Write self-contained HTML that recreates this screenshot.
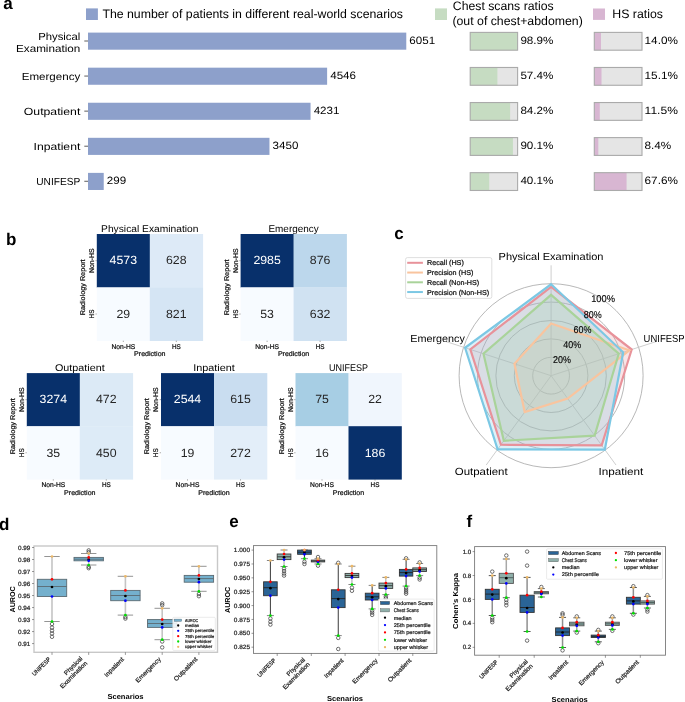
<!DOCTYPE html>
<html><head><meta charset="utf-8"><style>
html,body{margin:0;padding:0;background:#fff;}
svg{display:block;font-family:"Liberation Sans", sans-serif;will-change:transform;text-rendering:geometricPrecision;}
</style></head><body>
<svg width="685" height="702" viewBox="0 0 685 702">
<rect x="0" y="0" width="685" height="702" fill="#ffffff"/>
<text x="3.20" y="9.20" font-size="17" font-weight="bold" fill="#000">a</text>
<text x="5.90" y="244.70" font-size="17" font-weight="bold" fill="#000">b</text>
<text x="394.30" y="239.40" font-size="17" font-weight="bold" fill="#000">c</text>
<text x="-0.90" y="529.50" font-size="17" font-weight="bold" fill="#000">d</text>
<text x="229.20" y="526.90" font-size="17" font-weight="bold" fill="#000">e</text>
<text x="466.60" y="526.90" font-size="17" font-weight="bold" fill="#000">f</text>
<rect x="86.00" y="8.40" width="11.90" height="11.60" fill="#8da0cb"/>
<text x="102.40" y="17.80" font-size="12.3" textLength="300.60" lengthAdjust="spacingAndGlyphs">The number of patients in different real-world scenarios</text>
<rect x="435.00" y="8.40" width="12.00" height="11.60" fill="#c6dcc2"/>
<text x="452.80" y="10.20" font-size="12.3" textLength="100.80" lengthAdjust="spacingAndGlyphs">Chest scans ratios</text>
<text x="452.40" y="24.50" font-size="12.3" textLength="130.40" lengthAdjust="spacingAndGlyphs">(out of chest+abdomen)</text>
<rect x="593.00" y="8.50" width="12.00" height="11.40" fill="#d8b6d2"/>
<text x="612.30" y="17.60" font-size="12.3">HS ratios</text>
<rect x="88.00" y="32.60" width="318.28" height="17.10" fill="#8da0cb"/>
<line x1="84.30" y1="41.00" x2="88.00" y2="41.00" stroke="#333" stroke-width="0.8"/>
<text x="80.30" y="40.00" font-size="10.3" text-anchor="end" textLength="42.10" lengthAdjust="spacingAndGlyphs">Physical</text>
<text x="80.30" y="51.70" font-size="10.3" text-anchor="end" textLength="64.30" lengthAdjust="spacingAndGlyphs">Examination</text>
<text x="409.38" y="44.00" font-size="10.6" textLength="25.80" lengthAdjust="spacingAndGlyphs">6051</text>
<rect x="470.20" y="32.40" width="47.40" height="17.80" fill="#e5e5e5"/>
<rect x="470.20" y="32.40" width="46.88" height="17.80" fill="#c6dcc2"/>
<rect x="470.20" y="32.40" width="47.40" height="17.80" fill="none" stroke="#aaaaaa" stroke-width="1.1"/>
<text x="520.40" y="44.00" font-size="10.6" textLength="33.00" lengthAdjust="spacingAndGlyphs">98.9%</text>
<rect x="594.30" y="32.40" width="47.70" height="17.80" fill="#e5e5e5"/>
<rect x="594.30" y="32.40" width="6.68" height="17.80" fill="#d8b6d2"/>
<rect x="594.30" y="32.40" width="47.70" height="17.80" fill="none" stroke="#aaaaaa" stroke-width="1.1"/>
<text x="644.60" y="44.00" font-size="10.6" textLength="33.30" lengthAdjust="spacingAndGlyphs">14.0%</text>
<rect x="88.00" y="67.67" width="239.12" height="17.10" fill="#8da0cb"/>
<line x1="84.30" y1="76.07" x2="88.00" y2="76.07" stroke="#333" stroke-width="0.8"/>
<text x="80.30" y="79.82" font-size="10.3" text-anchor="end" textLength="58.60" lengthAdjust="spacingAndGlyphs">Emergency</text>
<text x="330.22" y="79.07" font-size="10.6" textLength="25.80" lengthAdjust="spacingAndGlyphs">4546</text>
<rect x="470.20" y="67.47" width="47.40" height="17.80" fill="#e5e5e5"/>
<rect x="470.20" y="67.47" width="27.21" height="17.80" fill="#c6dcc2"/>
<rect x="470.20" y="67.47" width="47.40" height="17.80" fill="none" stroke="#aaaaaa" stroke-width="1.1"/>
<text x="520.40" y="79.07" font-size="10.6" textLength="33.00" lengthAdjust="spacingAndGlyphs">57.4%</text>
<rect x="594.30" y="67.47" width="47.70" height="17.80" fill="#e5e5e5"/>
<rect x="594.30" y="67.47" width="7.20" height="17.80" fill="#d8b6d2"/>
<rect x="594.30" y="67.47" width="47.70" height="17.80" fill="none" stroke="#aaaaaa" stroke-width="1.1"/>
<text x="644.60" y="79.07" font-size="10.6" textLength="33.30" lengthAdjust="spacingAndGlyphs">15.1%</text>
<rect x="88.00" y="102.74" width="222.55" height="17.10" fill="#8da0cb"/>
<line x1="84.30" y1="111.14" x2="88.00" y2="111.14" stroke="#333" stroke-width="0.8"/>
<text x="80.30" y="114.89" font-size="10.3" text-anchor="end" textLength="56.50" lengthAdjust="spacingAndGlyphs">Outpatient</text>
<text x="313.65" y="114.14" font-size="10.6" textLength="25.80" lengthAdjust="spacingAndGlyphs">4231</text>
<rect x="470.20" y="102.54" width="47.40" height="17.80" fill="#e5e5e5"/>
<rect x="470.20" y="102.54" width="39.91" height="17.80" fill="#c6dcc2"/>
<rect x="470.20" y="102.54" width="47.40" height="17.80" fill="none" stroke="#aaaaaa" stroke-width="1.1"/>
<text x="520.40" y="114.14" font-size="10.6" textLength="33.00" lengthAdjust="spacingAndGlyphs">84.2%</text>
<rect x="594.30" y="102.54" width="47.70" height="17.80" fill="#e5e5e5"/>
<rect x="594.30" y="102.54" width="5.49" height="17.80" fill="#d8b6d2"/>
<rect x="594.30" y="102.54" width="47.70" height="17.80" fill="none" stroke="#aaaaaa" stroke-width="1.1"/>
<text x="644.60" y="114.14" font-size="10.6" textLength="33.30" lengthAdjust="spacingAndGlyphs">11.5%</text>
<rect x="88.00" y="137.81" width="181.47" height="17.10" fill="#8da0cb"/>
<line x1="84.30" y1="146.21" x2="88.00" y2="146.21" stroke="#333" stroke-width="0.8"/>
<text x="80.30" y="149.96" font-size="10.3" text-anchor="end" textLength="46.70" lengthAdjust="spacingAndGlyphs">Inpatient</text>
<text x="272.57" y="149.21" font-size="10.6" textLength="25.80" lengthAdjust="spacingAndGlyphs">3450</text>
<rect x="470.20" y="137.61" width="47.40" height="17.80" fill="#e5e5e5"/>
<rect x="470.20" y="137.61" width="42.71" height="17.80" fill="#c6dcc2"/>
<rect x="470.20" y="137.61" width="47.40" height="17.80" fill="none" stroke="#aaaaaa" stroke-width="1.1"/>
<text x="520.40" y="149.21" font-size="10.6" textLength="33.00" lengthAdjust="spacingAndGlyphs">90.1%</text>
<rect x="594.30" y="137.61" width="47.70" height="17.80" fill="#e5e5e5"/>
<rect x="594.30" y="137.61" width="4.01" height="17.80" fill="#d8b6d2"/>
<rect x="594.30" y="137.61" width="47.70" height="17.80" fill="none" stroke="#aaaaaa" stroke-width="1.1"/>
<text x="644.60" y="149.21" font-size="10.6" textLength="26.70" lengthAdjust="spacingAndGlyphs">8.4%</text>
<rect x="88.00" y="172.88" width="15.73" height="17.10" fill="#8da0cb"/>
<line x1="84.30" y1="181.28" x2="88.00" y2="181.28" stroke="#333" stroke-width="0.8"/>
<text x="80.30" y="185.03" font-size="10.3" text-anchor="end" textLength="44.10" lengthAdjust="spacingAndGlyphs">UNIFESP</text>
<text x="106.83" y="184.28" font-size="10.6" textLength="19.35" lengthAdjust="spacingAndGlyphs">299</text>
<rect x="470.20" y="172.68" width="47.40" height="17.80" fill="#e5e5e5"/>
<rect x="470.20" y="172.68" width="19.01" height="17.80" fill="#c6dcc2"/>
<rect x="470.20" y="172.68" width="47.40" height="17.80" fill="none" stroke="#aaaaaa" stroke-width="1.1"/>
<text x="520.40" y="184.28" font-size="10.6" textLength="33.00" lengthAdjust="spacingAndGlyphs">40.1%</text>
<rect x="594.30" y="172.68" width="47.70" height="17.80" fill="#e5e5e5"/>
<rect x="594.30" y="172.68" width="32.25" height="17.80" fill="#d8b6d2"/>
<rect x="594.30" y="172.68" width="47.70" height="17.80" fill="none" stroke="#aaaaaa" stroke-width="1.1"/>
<text x="644.60" y="184.28" font-size="10.6" textLength="33.30" lengthAdjust="spacingAndGlyphs">67.6%</text>
<rect x="96.80" y="234.00" width="53.30" height="53.65" fill="#08306b"/>
<rect x="149.80" y="234.00" width="53.30" height="53.65" fill="#ddeaf7"/>
<rect x="96.80" y="287.35" width="53.30" height="53.65" fill="#f7fbff"/>
<rect x="149.80" y="287.35" width="53.30" height="53.65" fill="#d5e5f4"/>
<text x="123.30" y="264.48" font-size="11.9" text-anchor="middle" textLength="27.40" lengthAdjust="spacingAndGlyphs" fill="#ffffff">4573</text>
<text x="176.30" y="264.48" font-size="11.9" text-anchor="middle" textLength="20.55" lengthAdjust="spacingAndGlyphs" fill="#262626">628</text>
<text x="123.30" y="317.83" font-size="11.9" text-anchor="middle" textLength="13.70" lengthAdjust="spacingAndGlyphs" fill="#262626">29</text>
<text x="176.30" y="317.83" font-size="11.9" text-anchor="middle" textLength="20.55" lengthAdjust="spacingAndGlyphs" fill="#262626">821</text>
<text x="149.80" y="232.10" font-size="9.8" text-anchor="middle" textLength="97.44" lengthAdjust="spacingAndGlyphs">Physical Examination</text>
<text x="85.30" y="287.35" font-size="6.9" text-anchor="middle" textLength="56.00" lengthAdjust="spacingAndGlyphs" transform="rotate(-90 85.30 287.35)" stroke="#1a1a1a" stroke-width="0.22">Radiology Report</text>
<text x="94.20" y="260.68" font-size="6.9" text-anchor="middle" textLength="24.60" lengthAdjust="spacingAndGlyphs" transform="rotate(-90 94.20 260.68)" stroke="#1a1a1a" stroke-width="0.22">Non-HS</text>
<text x="94.20" y="314.02" font-size="6.9" text-anchor="middle" textLength="8.80" lengthAdjust="spacingAndGlyphs" transform="rotate(-90 94.20 314.02)" stroke="#1a1a1a" stroke-width="0.22">HS</text>
<line x1="95.50" y1="260.68" x2="96.80" y2="260.68" stroke="#555" stroke-width="0.5"/>
<line x1="95.50" y1="314.02" x2="96.80" y2="314.02" stroke="#555" stroke-width="0.5"/>
<line x1="123.30" y1="340.70" x2="123.30" y2="342.00" stroke="#555" stroke-width="0.5"/>
<line x1="176.30" y1="340.70" x2="176.30" y2="342.00" stroke="#555" stroke-width="0.5"/>
<text x="123.30" y="348.50" font-size="6.9" text-anchor="middle" textLength="23.80" lengthAdjust="spacingAndGlyphs" stroke="#1a1a1a" stroke-width="0.22">Non-HS</text>
<text x="176.30" y="348.50" font-size="6.9" text-anchor="middle" textLength="8.80" lengthAdjust="spacingAndGlyphs" stroke="#1a1a1a" stroke-width="0.22">HS</text>
<text x="149.80" y="356.20" font-size="6.9" text-anchor="middle" textLength="31.40" lengthAdjust="spacingAndGlyphs" stroke="#1a1a1a" stroke-width="0.22">Prediction</text>
<rect x="240.60" y="234.00" width="53.30" height="53.65" fill="#08306b"/>
<rect x="293.60" y="234.00" width="53.30" height="53.65" fill="#bcd7ec"/>
<rect x="240.60" y="287.35" width="53.30" height="53.65" fill="#f7fbff"/>
<rect x="293.60" y="287.35" width="53.30" height="53.65" fill="#d0e2f2"/>
<text x="267.10" y="264.48" font-size="11.9" text-anchor="middle" textLength="27.40" lengthAdjust="spacingAndGlyphs" fill="#ffffff">2985</text>
<text x="320.10" y="264.48" font-size="11.9" text-anchor="middle" textLength="20.55" lengthAdjust="spacingAndGlyphs" fill="#262626">876</text>
<text x="267.10" y="317.83" font-size="11.9" text-anchor="middle" textLength="13.70" lengthAdjust="spacingAndGlyphs" fill="#262626">53</text>
<text x="320.10" y="317.83" font-size="11.9" text-anchor="middle" textLength="20.55" lengthAdjust="spacingAndGlyphs" fill="#262626">632</text>
<text x="293.60" y="232.10" font-size="9.8" text-anchor="middle" textLength="50.24" lengthAdjust="spacingAndGlyphs">Emergency</text>
<text x="229.10" y="287.35" font-size="6.9" text-anchor="middle" textLength="56.00" lengthAdjust="spacingAndGlyphs" transform="rotate(-90 229.10 287.35)" stroke="#1a1a1a" stroke-width="0.22">Radiology Report</text>
<text x="238.00" y="260.68" font-size="6.9" text-anchor="middle" textLength="24.60" lengthAdjust="spacingAndGlyphs" transform="rotate(-90 238.00 260.68)" stroke="#1a1a1a" stroke-width="0.22">Non-HS</text>
<text x="238.00" y="314.02" font-size="6.9" text-anchor="middle" textLength="8.80" lengthAdjust="spacingAndGlyphs" transform="rotate(-90 238.00 314.02)" stroke="#1a1a1a" stroke-width="0.22">HS</text>
<line x1="239.30" y1="260.68" x2="240.60" y2="260.68" stroke="#555" stroke-width="0.5"/>
<line x1="239.30" y1="314.02" x2="240.60" y2="314.02" stroke="#555" stroke-width="0.5"/>
<line x1="267.10" y1="340.70" x2="267.10" y2="342.00" stroke="#555" stroke-width="0.5"/>
<line x1="320.10" y1="340.70" x2="320.10" y2="342.00" stroke="#555" stroke-width="0.5"/>
<text x="267.10" y="348.50" font-size="6.9" text-anchor="middle" textLength="23.80" lengthAdjust="spacingAndGlyphs" stroke="#1a1a1a" stroke-width="0.22">Non-HS</text>
<text x="320.10" y="348.50" font-size="6.9" text-anchor="middle" textLength="8.80" lengthAdjust="spacingAndGlyphs" stroke="#1a1a1a" stroke-width="0.22">HS</text>
<text x="293.60" y="356.20" font-size="6.9" text-anchor="middle" textLength="31.40" lengthAdjust="spacingAndGlyphs" stroke="#1a1a1a" stroke-width="0.22">Prediction</text>
<rect x="26.80" y="373.10" width="53.30" height="53.40" fill="#08306b"/>
<rect x="79.80" y="373.10" width="53.30" height="53.40" fill="#dceaf6"/>
<rect x="26.80" y="426.20" width="53.30" height="53.40" fill="#f7fbff"/>
<rect x="79.80" y="426.20" width="53.30" height="53.40" fill="#ddebf7"/>
<text x="53.30" y="403.45" font-size="11.9" text-anchor="middle" textLength="27.40" lengthAdjust="spacingAndGlyphs" fill="#ffffff">3274</text>
<text x="106.30" y="403.45" font-size="11.9" text-anchor="middle" textLength="20.55" lengthAdjust="spacingAndGlyphs" fill="#262626">472</text>
<text x="53.30" y="456.55" font-size="11.9" text-anchor="middle" textLength="13.70" lengthAdjust="spacingAndGlyphs" fill="#262626">35</text>
<text x="106.30" y="456.55" font-size="11.9" text-anchor="middle" textLength="20.55" lengthAdjust="spacingAndGlyphs" fill="#262626">450</text>
<text x="79.80" y="371.20" font-size="9.8" text-anchor="middle" textLength="49.73" lengthAdjust="spacingAndGlyphs">Outpatient</text>
<text x="15.30" y="426.20" font-size="6.9" text-anchor="middle" textLength="56.00" lengthAdjust="spacingAndGlyphs" transform="rotate(-90 15.30 426.20)" stroke="#1a1a1a" stroke-width="0.22">Radiology Report</text>
<text x="24.20" y="399.65" font-size="6.9" text-anchor="middle" textLength="24.60" lengthAdjust="spacingAndGlyphs" transform="rotate(-90 24.20 399.65)" stroke="#1a1a1a" stroke-width="0.22">Non-HS</text>
<text x="24.20" y="452.75" font-size="6.9" text-anchor="middle" textLength="8.80" lengthAdjust="spacingAndGlyphs" transform="rotate(-90 24.20 452.75)" stroke="#1a1a1a" stroke-width="0.22">HS</text>
<line x1="25.50" y1="399.65" x2="26.80" y2="399.65" stroke="#555" stroke-width="0.5"/>
<line x1="25.50" y1="452.75" x2="26.80" y2="452.75" stroke="#555" stroke-width="0.5"/>
<line x1="53.30" y1="479.30" x2="53.30" y2="480.60" stroke="#555" stroke-width="0.5"/>
<line x1="106.30" y1="479.30" x2="106.30" y2="480.60" stroke="#555" stroke-width="0.5"/>
<text x="53.30" y="487.10" font-size="6.9" text-anchor="middle" textLength="23.80" lengthAdjust="spacingAndGlyphs" stroke="#1a1a1a" stroke-width="0.22">Non-HS</text>
<text x="106.30" y="487.10" font-size="6.9" text-anchor="middle" textLength="8.80" lengthAdjust="spacingAndGlyphs" stroke="#1a1a1a" stroke-width="0.22">HS</text>
<text x="79.80" y="494.80" font-size="6.9" text-anchor="middle" textLength="31.40" lengthAdjust="spacingAndGlyphs" stroke="#1a1a1a" stroke-width="0.22">Prediction</text>
<rect x="161.00" y="373.10" width="53.30" height="53.40" fill="#08306b"/>
<rect x="214.00" y="373.10" width="53.30" height="53.40" fill="#c9ddf0"/>
<rect x="161.00" y="426.20" width="53.30" height="53.40" fill="#f7fbff"/>
<rect x="214.00" y="426.20" width="53.30" height="53.40" fill="#e3eef9"/>
<text x="187.50" y="403.45" font-size="11.9" text-anchor="middle" textLength="27.40" lengthAdjust="spacingAndGlyphs" fill="#ffffff">2544</text>
<text x="240.50" y="403.45" font-size="11.9" text-anchor="middle" textLength="20.55" lengthAdjust="spacingAndGlyphs" fill="#262626">615</text>
<text x="187.50" y="456.55" font-size="11.9" text-anchor="middle" textLength="13.70" lengthAdjust="spacingAndGlyphs" fill="#262626">19</text>
<text x="240.50" y="456.55" font-size="11.9" text-anchor="middle" textLength="20.55" lengthAdjust="spacingAndGlyphs" fill="#262626">272</text>
<text x="214.00" y="371.20" font-size="9.8" text-anchor="middle" textLength="41.61" lengthAdjust="spacingAndGlyphs">Inpatient</text>
<text x="149.50" y="426.20" font-size="6.9" text-anchor="middle" textLength="56.00" lengthAdjust="spacingAndGlyphs" transform="rotate(-90 149.50 426.20)" stroke="#1a1a1a" stroke-width="0.22">Radiology Report</text>
<text x="158.40" y="399.65" font-size="6.9" text-anchor="middle" textLength="24.60" lengthAdjust="spacingAndGlyphs" transform="rotate(-90 158.40 399.65)" stroke="#1a1a1a" stroke-width="0.22">Non-HS</text>
<text x="158.40" y="452.75" font-size="6.9" text-anchor="middle" textLength="8.80" lengthAdjust="spacingAndGlyphs" transform="rotate(-90 158.40 452.75)" stroke="#1a1a1a" stroke-width="0.22">HS</text>
<line x1="159.70" y1="399.65" x2="161.00" y2="399.65" stroke="#555" stroke-width="0.5"/>
<line x1="159.70" y1="452.75" x2="161.00" y2="452.75" stroke="#555" stroke-width="0.5"/>
<line x1="187.50" y1="479.30" x2="187.50" y2="480.60" stroke="#555" stroke-width="0.5"/>
<line x1="240.50" y1="479.30" x2="240.50" y2="480.60" stroke="#555" stroke-width="0.5"/>
<text x="187.50" y="487.10" font-size="6.9" text-anchor="middle" textLength="23.80" lengthAdjust="spacingAndGlyphs" stroke="#1a1a1a" stroke-width="0.22">Non-HS</text>
<text x="240.50" y="487.10" font-size="6.9" text-anchor="middle" textLength="8.80" lengthAdjust="spacingAndGlyphs" stroke="#1a1a1a" stroke-width="0.22">HS</text>
<text x="214.00" y="494.80" font-size="6.9" text-anchor="middle" textLength="31.40" lengthAdjust="spacingAndGlyphs" stroke="#1a1a1a" stroke-width="0.22">Prediction</text>
<rect x="295.50" y="373.10" width="53.30" height="53.40" fill="#a7cee4"/>
<rect x="348.50" y="373.10" width="53.30" height="53.40" fill="#f0f6fd"/>
<rect x="295.50" y="426.20" width="53.30" height="53.40" fill="#f7fbff"/>
<rect x="348.50" y="426.20" width="53.30" height="53.40" fill="#08306b"/>
<text x="322.00" y="403.45" font-size="11.9" text-anchor="middle" textLength="13.70" lengthAdjust="spacingAndGlyphs" fill="#262626">75</text>
<text x="375.00" y="403.45" font-size="11.9" text-anchor="middle" textLength="13.70" lengthAdjust="spacingAndGlyphs" fill="#262626">22</text>
<text x="322.00" y="456.55" font-size="11.9" text-anchor="middle" textLength="13.70" lengthAdjust="spacingAndGlyphs" fill="#262626">16</text>
<text x="375.00" y="456.55" font-size="11.9" text-anchor="middle" textLength="20.55" lengthAdjust="spacingAndGlyphs" fill="#ffffff">186</text>
<text x="348.50" y="371.20" font-size="9.8" text-anchor="middle" textLength="39.08" lengthAdjust="spacingAndGlyphs">UNIFESP</text>
<text x="284.00" y="426.20" font-size="6.9" text-anchor="middle" textLength="56.00" lengthAdjust="spacingAndGlyphs" transform="rotate(-90 284.00 426.20)" stroke="#1a1a1a" stroke-width="0.22">Radiology Report</text>
<text x="292.90" y="399.65" font-size="6.9" text-anchor="middle" textLength="24.60" lengthAdjust="spacingAndGlyphs" transform="rotate(-90 292.90 399.65)" stroke="#1a1a1a" stroke-width="0.22">Non-HS</text>
<text x="292.90" y="452.75" font-size="6.9" text-anchor="middle" textLength="8.80" lengthAdjust="spacingAndGlyphs" transform="rotate(-90 292.90 452.75)" stroke="#1a1a1a" stroke-width="0.22">HS</text>
<line x1="294.20" y1="399.65" x2="295.50" y2="399.65" stroke="#555" stroke-width="0.5"/>
<line x1="294.20" y1="452.75" x2="295.50" y2="452.75" stroke="#555" stroke-width="0.5"/>
<line x1="322.00" y1="479.30" x2="322.00" y2="480.60" stroke="#555" stroke-width="0.5"/>
<line x1="375.00" y1="479.30" x2="375.00" y2="480.60" stroke="#555" stroke-width="0.5"/>
<text x="322.00" y="487.10" font-size="6.9" text-anchor="middle" textLength="23.80" lengthAdjust="spacingAndGlyphs" stroke="#1a1a1a" stroke-width="0.22">Non-HS</text>
<text x="375.00" y="487.10" font-size="6.9" text-anchor="middle" textLength="8.80" lengthAdjust="spacingAndGlyphs" stroke="#1a1a1a" stroke-width="0.22">HS</text>
<text x="348.50" y="494.80" font-size="6.9" text-anchor="middle" textLength="31.40" lengthAdjust="spacingAndGlyphs" stroke="#1a1a1a" stroke-width="0.22">Prediction</text>
<circle cx="551.10" cy="375.70" r="18.40" fill="none" stroke="#a0a0a0" stroke-width="0.75"/>
<circle cx="551.10" cy="375.70" r="36.80" fill="none" stroke="#a0a0a0" stroke-width="0.75"/>
<circle cx="551.10" cy="375.70" r="55.20" fill="none" stroke="#a0a0a0" stroke-width="0.75"/>
<circle cx="551.10" cy="375.70" r="73.60" fill="none" stroke="#a0a0a0" stroke-width="0.75"/>
<circle cx="551.10" cy="375.70" r="92.00" fill="none" stroke="#a0a0a0" stroke-width="0.75"/>
<line x1="551.10" y1="375.70" x2="551.10" y2="265.30" stroke="#c8c8c8" stroke-width="0.9"/>
<line x1="551.10" y1="375.70" x2="656.10" y2="341.58" stroke="#c8c8c8" stroke-width="0.9"/>
<line x1="551.10" y1="375.70" x2="615.99" y2="465.02" stroke="#c8c8c8" stroke-width="0.9"/>
<line x1="551.10" y1="375.70" x2="486.21" y2="465.02" stroke="#c8c8c8" stroke-width="0.9"/>
<line x1="551.10" y1="375.70" x2="446.10" y2="341.58" stroke="#c8c8c8" stroke-width="0.9"/>
<polygon points="551.10,286.83 631.68,349.52 601.66,445.29 500.92,444.77 470.34,349.46" fill="#e8929a" fill-opacity="0.25" stroke="none"/>
<polygon points="551.10,323.54 629.32,350.28 567.70,398.55 524.71,412.02 514.44,363.79" fill="#f9c49e" fill-opacity="0.25" stroke="none"/>
<polygon points="551.10,294.83 618.74,353.72 594.63,435.62 503.84,440.75 483.46,353.72" fill="#a9d39a" fill-opacity="0.25" stroke="none"/>
<polygon points="551.10,284.25 623.20,352.27 604.80,449.61 497.62,449.31 465.09,347.75" fill="#7cc8e4" fill-opacity="0.25" stroke="none"/>
<polygon points="551.10,286.83 631.68,349.52 601.66,445.29 500.92,444.77 470.34,349.46" fill="none" stroke="#e8929a" stroke-width="2.2" stroke-linejoin="miter"/>
<polygon points="551.10,323.54 629.32,350.28 567.70,398.55 524.71,412.02 514.44,363.79" fill="none" stroke="#f9c49e" stroke-width="2.2" stroke-linejoin="miter"/>
<polygon points="551.10,294.83 618.74,353.72 594.63,435.62 503.84,440.75 483.46,353.72" fill="none" stroke="#a9d39a" stroke-width="2.2" stroke-linejoin="miter"/>
<polygon points="551.10,284.25 623.20,352.27 604.80,449.61 497.62,449.31 465.09,347.75" fill="none" stroke="#7cc8e4" stroke-width="2.2" stroke-linejoin="miter"/>
<text x="561.89" y="363.35" font-size="9.9" text-anchor="middle" textLength="17.90" lengthAdjust="spacingAndGlyphs" stroke="#1a1a1a" stroke-width="0.15">20%</text>
<text x="572.18" y="348.09" font-size="9.9" text-anchor="middle" textLength="17.90" lengthAdjust="spacingAndGlyphs" stroke="#1a1a1a" stroke-width="0.15">40%</text>
<text x="582.47" y="332.84" font-size="9.9" text-anchor="middle" textLength="17.90" lengthAdjust="spacingAndGlyphs" stroke="#1a1a1a" stroke-width="0.15">60%</text>
<text x="592.76" y="317.58" font-size="9.9" text-anchor="middle" textLength="17.90" lengthAdjust="spacingAndGlyphs" stroke="#1a1a1a" stroke-width="0.15">80%</text>
<text x="603.05" y="302.33" font-size="9.9" text-anchor="middle" textLength="23.80" lengthAdjust="spacingAndGlyphs" stroke="#1a1a1a" stroke-width="0.15">100%</text>
<text x="551.00" y="259.60" font-size="10.3" text-anchor="middle" textLength="104.90" lengthAdjust="spacingAndGlyphs">Physical Examination</text>
<text x="643.60" y="341.80" font-size="10.3" textLength="41.00" lengthAdjust="spacingAndGlyphs">UNIFESP</text>
<text x="410.30" y="341.80" font-size="10.3" textLength="54.60" lengthAdjust="spacingAndGlyphs">Emergency</text>
<text x="454.80" y="475.00" font-size="10.3" textLength="52.80" lengthAdjust="spacingAndGlyphs">Outpatient</text>
<text x="598.40" y="475.00" font-size="10.3" textLength="44.90" lengthAdjust="spacingAndGlyphs">Inpatient</text>
<rect x="405.6" y="257.6" width="86.2" height="40.8" rx="1.8" fill="#ffffff" fill-opacity="0.8" stroke="#d5d5d5" stroke-width="0.8"/>
<line x1="407.20" y1="262.80" x2="422.90" y2="262.80" stroke="#e8929a" stroke-width="2.0"/>
<text x="427.00" y="265.30" font-size="7.1" textLength="36.80" lengthAdjust="spacingAndGlyphs" stroke="#1a1a1a" stroke-width="0.22">Recall (HS)</text>
<line x1="407.20" y1="272.55" x2="422.90" y2="272.55" stroke="#f9c49e" stroke-width="2.0"/>
<text x="427.00" y="275.05" font-size="7.1" textLength="46.40" lengthAdjust="spacingAndGlyphs" stroke="#1a1a1a" stroke-width="0.22">Precision (HS)</text>
<line x1="407.20" y1="282.30" x2="422.90" y2="282.30" stroke="#a9d39a" stroke-width="2.0"/>
<text x="427.00" y="284.80" font-size="7.1" textLength="52.20" lengthAdjust="spacingAndGlyphs" stroke="#1a1a1a" stroke-width="0.22">Recall (Non-HS)</text>
<line x1="407.20" y1="292.05" x2="422.90" y2="292.05" stroke="#7cc8e4" stroke-width="2.0"/>
<text x="427.00" y="294.55" font-size="7.1" textLength="62.10" lengthAdjust="spacingAndGlyphs" stroke="#1a1a1a" stroke-width="0.22">Precision (Non-HS)</text>
<rect x="34.00" y="546.00" width="183.50" height="106.30" fill="none" stroke="#c8c8c8" stroke-width="1.4"/>
<line x1="32.00" y1="547.50" x2="34.00" y2="547.50" stroke="#555" stroke-width="0.6"/>
<text x="30.30" y="549.60" font-size="6.2" text-anchor="end" textLength="12.30" lengthAdjust="spacingAndGlyphs" fill="#262626" stroke="#262626" stroke-width="0.22">0.99</text>
<line x1="32.00" y1="559.51" x2="34.00" y2="559.51" stroke="#555" stroke-width="0.6"/>
<text x="30.30" y="561.61" font-size="6.2" text-anchor="end" textLength="12.30" lengthAdjust="spacingAndGlyphs" fill="#262626" stroke="#262626" stroke-width="0.22">0.98</text>
<line x1="32.00" y1="571.52" x2="34.00" y2="571.52" stroke="#555" stroke-width="0.6"/>
<text x="30.30" y="573.62" font-size="6.2" text-anchor="end" textLength="12.30" lengthAdjust="spacingAndGlyphs" fill="#262626" stroke="#262626" stroke-width="0.22">0.97</text>
<line x1="32.00" y1="583.53" x2="34.00" y2="583.53" stroke="#555" stroke-width="0.6"/>
<text x="30.30" y="585.63" font-size="6.2" text-anchor="end" textLength="12.30" lengthAdjust="spacingAndGlyphs" fill="#262626" stroke="#262626" stroke-width="0.22">0.96</text>
<line x1="32.00" y1="595.54" x2="34.00" y2="595.54" stroke="#555" stroke-width="0.6"/>
<text x="30.30" y="597.64" font-size="6.2" text-anchor="end" textLength="12.30" lengthAdjust="spacingAndGlyphs" fill="#262626" stroke="#262626" stroke-width="0.22">0.95</text>
<line x1="32.00" y1="607.55" x2="34.00" y2="607.55" stroke="#555" stroke-width="0.6"/>
<text x="30.30" y="609.65" font-size="6.2" text-anchor="end" textLength="12.30" lengthAdjust="spacingAndGlyphs" fill="#262626" stroke="#262626" stroke-width="0.22">0.94</text>
<line x1="32.00" y1="619.56" x2="34.00" y2="619.56" stroke="#555" stroke-width="0.6"/>
<text x="30.30" y="621.66" font-size="6.2" text-anchor="end" textLength="12.30" lengthAdjust="spacingAndGlyphs" fill="#262626" stroke="#262626" stroke-width="0.22">0.93</text>
<line x1="32.00" y1="631.57" x2="34.00" y2="631.57" stroke="#555" stroke-width="0.6"/>
<text x="30.30" y="633.67" font-size="6.2" text-anchor="end" textLength="12.30" lengthAdjust="spacingAndGlyphs" fill="#262626" stroke="#262626" stroke-width="0.22">0.92</text>
<line x1="32.00" y1="643.58" x2="34.00" y2="643.58" stroke="#555" stroke-width="0.6"/>
<text x="30.30" y="645.68" font-size="6.2" text-anchor="end" textLength="12.30" lengthAdjust="spacingAndGlyphs" fill="#262626" stroke="#262626" stroke-width="0.22">0.91</text>
<line x1="52.00" y1="579.30" x2="52.00" y2="556.50" stroke="#c4c4c4" stroke-width="1.6"/>
<line x1="52.00" y1="596.50" x2="52.00" y2="621.50" stroke="#c4c4c4" stroke-width="1.6"/>
<line x1="44.30" y1="556.50" x2="59.70" y2="556.50" stroke="#888888" stroke-width="0.9"/>
<line x1="44.30" y1="621.50" x2="59.70" y2="621.50" stroke="#888888" stroke-width="0.9"/>
<rect x="37.30" y="579.30" width="29.40" height="17.20" fill="#74b0cd" stroke="#5a6a72" stroke-width="0.9"/>
<line x1="37.30" y1="586.50" x2="66.70" y2="586.50" stroke="#5a6a72" stroke-width="0.9"/>
<circle cx="52.00" cy="624.00" r="1.75" fill="none" stroke="#333333" stroke-width="0.7"/>
<circle cx="52.00" cy="627.60" r="1.75" fill="none" stroke="#333333" stroke-width="0.7"/>
<circle cx="52.00" cy="630.60" r="1.75" fill="none" stroke="#333333" stroke-width="0.7"/>
<circle cx="52.00" cy="633.50" r="1.75" fill="none" stroke="#333333" stroke-width="0.7"/>
<circle cx="52.00" cy="636.80" r="1.75" fill="none" stroke="#333333" stroke-width="0.7"/>
<circle cx="52.00" cy="587.00" r="1.35" fill="#000000"/>
<circle cx="52.00" cy="596.50" r="1.35" fill="#0000ff"/>
<circle cx="52.00" cy="579.30" r="1.35" fill="#ff0000"/>
<circle cx="52.00" cy="621.50" r="1.35" fill="#00e000"/>
<circle cx="52.00" cy="556.50" r="1.35" fill="#ecb868"/>
<line x1="88.70" y1="557.40" x2="88.70" y2="553.50" stroke="#c4c4c4" stroke-width="1.6"/>
<line x1="88.70" y1="560.80" x2="88.70" y2="565.00" stroke="#c4c4c4" stroke-width="1.6"/>
<line x1="81.00" y1="553.50" x2="96.40" y2="553.50" stroke="#888888" stroke-width="0.9"/>
<line x1="81.00" y1="565.00" x2="96.40" y2="565.00" stroke="#888888" stroke-width="0.9"/>
<rect x="74.00" y="557.40" width="29.40" height="3.40" fill="#74b0cd" stroke="#5a6a72" stroke-width="0.9"/>
<line x1="74.00" y1="559.20" x2="103.40" y2="559.20" stroke="#5a6a72" stroke-width="0.9"/>
<circle cx="88.70" cy="550.40" r="1.75" fill="none" stroke="#333333" stroke-width="0.7"/>
<circle cx="88.70" cy="552.20" r="1.75" fill="none" stroke="#333333" stroke-width="0.7"/>
<circle cx="88.70" cy="566.80" r="1.75" fill="none" stroke="#333333" stroke-width="0.7"/>
<circle cx="88.70" cy="568.20" r="1.75" fill="none" stroke="#333333" stroke-width="0.7"/>
<circle cx="88.70" cy="559.70" r="1.35" fill="#000000"/>
<circle cx="88.70" cy="560.80" r="1.35" fill="#0000ff"/>
<circle cx="88.70" cy="557.40" r="1.35" fill="#ff0000"/>
<circle cx="88.70" cy="565.00" r="1.35" fill="#00e000"/>
<circle cx="88.70" cy="553.50" r="1.35" fill="#ecb868"/>
<line x1="125.40" y1="590.40" x2="125.40" y2="576.30" stroke="#c4c4c4" stroke-width="1.6"/>
<line x1="125.40" y1="600.70" x2="125.40" y2="615.10" stroke="#c4c4c4" stroke-width="1.6"/>
<line x1="117.70" y1="576.30" x2="133.10" y2="576.30" stroke="#888888" stroke-width="0.9"/>
<line x1="117.70" y1="615.10" x2="133.10" y2="615.10" stroke="#888888" stroke-width="0.9"/>
<rect x="110.70" y="590.40" width="29.40" height="10.30" fill="#74b0cd" stroke="#5a6a72" stroke-width="0.9"/>
<line x1="110.70" y1="595.50" x2="140.10" y2="595.50" stroke="#5a6a72" stroke-width="0.9"/>
<circle cx="125.40" cy="617.00" r="1.75" fill="none" stroke="#333333" stroke-width="0.7"/>
<circle cx="125.40" cy="618.60" r="1.75" fill="none" stroke="#333333" stroke-width="0.7"/>
<circle cx="125.40" cy="596.00" r="1.35" fill="#000000"/>
<circle cx="125.40" cy="600.70" r="1.35" fill="#0000ff"/>
<circle cx="125.40" cy="590.40" r="1.35" fill="#ff0000"/>
<circle cx="125.40" cy="615.10" r="1.35" fill="#00e000"/>
<circle cx="125.40" cy="576.30" r="1.35" fill="#ecb868"/>
<line x1="162.20" y1="619.60" x2="162.20" y2="608.30" stroke="#c4c4c4" stroke-width="1.6"/>
<line x1="162.20" y1="627.40" x2="162.20" y2="639.70" stroke="#c4c4c4" stroke-width="1.6"/>
<line x1="154.50" y1="608.30" x2="169.90" y2="608.30" stroke="#888888" stroke-width="0.9"/>
<line x1="154.50" y1="639.70" x2="169.90" y2="639.70" stroke="#888888" stroke-width="0.9"/>
<rect x="147.50" y="619.60" width="29.40" height="7.80" fill="#74b0cd" stroke="#5a6a72" stroke-width="0.9"/>
<line x1="147.50" y1="623.50" x2="176.90" y2="623.50" stroke="#5a6a72" stroke-width="0.9"/>
<circle cx="162.20" cy="603.40" r="1.75" fill="none" stroke="#333333" stroke-width="0.7"/>
<circle cx="162.20" cy="605.20" r="1.75" fill="none" stroke="#333333" stroke-width="0.7"/>
<circle cx="162.20" cy="641.50" r="1.75" fill="none" stroke="#333333" stroke-width="0.7"/>
<circle cx="162.20" cy="647.40" r="1.75" fill="none" stroke="#333333" stroke-width="0.7"/>
<circle cx="162.20" cy="624.00" r="1.35" fill="#000000"/>
<circle cx="162.20" cy="627.40" r="1.35" fill="#0000ff"/>
<circle cx="162.20" cy="619.60" r="1.35" fill="#ff0000"/>
<circle cx="162.20" cy="639.70" r="1.35" fill="#00e000"/>
<circle cx="162.20" cy="608.30" r="1.35" fill="#ecb868"/>
<line x1="198.90" y1="575.40" x2="198.90" y2="566.30" stroke="#c4c4c4" stroke-width="1.6"/>
<line x1="198.90" y1="582.20" x2="198.90" y2="591.30" stroke="#c4c4c4" stroke-width="1.6"/>
<line x1="191.20" y1="566.30" x2="206.60" y2="566.30" stroke="#888888" stroke-width="0.9"/>
<line x1="191.20" y1="591.30" x2="206.60" y2="591.30" stroke="#888888" stroke-width="0.9"/>
<rect x="184.20" y="575.40" width="29.40" height="6.80" fill="#74b0cd" stroke="#5a6a72" stroke-width="0.9"/>
<line x1="184.20" y1="578.60" x2="213.60" y2="578.60" stroke="#5a6a72" stroke-width="0.9"/>
<circle cx="198.90" cy="594.00" r="1.75" fill="none" stroke="#333333" stroke-width="0.7"/>
<circle cx="198.90" cy="596.20" r="1.75" fill="none" stroke="#333333" stroke-width="0.7"/>
<circle cx="198.90" cy="579.10" r="1.35" fill="#000000"/>
<circle cx="198.90" cy="582.20" r="1.35" fill="#0000ff"/>
<circle cx="198.90" cy="575.40" r="1.35" fill="#ff0000"/>
<circle cx="198.90" cy="591.30" r="1.35" fill="#00e000"/>
<circle cx="198.90" cy="566.30" r="1.35" fill="#ecb868"/>
<line x1="52.00" y1="652.30" x2="52.00" y2="654.90" stroke="#555" stroke-width="0.6"/>
<text x="51.00" y="659.80" font-size="6.2" text-anchor="end" textLength="23.40" lengthAdjust="spacingAndGlyphs" fill="#262626" transform="rotate(-45 51.00 659.80)" stroke="#262626" stroke-width="0.22">UNIFESP</text>
<line x1="88.70" y1="652.30" x2="88.70" y2="654.90" stroke="#555" stroke-width="0.6"/>
<text x="87.70" y="663.60" font-size="6.2" text-anchor="end" textLength="35.50" lengthAdjust="spacingAndGlyphs" fill="#262626" transform="rotate(-45 87.70 663.60)" stroke="#262626" stroke-width="0.22">Examination</text>
<text x="82.80" y="659.10" font-size="6.2" text-anchor="end" textLength="23.10" lengthAdjust="spacingAndGlyphs" fill="#262626" transform="rotate(-45 82.80 659.10)" stroke="#262626" stroke-width="0.22">Physical</text>
<line x1="125.40" y1="652.30" x2="125.40" y2="654.90" stroke="#555" stroke-width="0.6"/>
<text x="124.40" y="659.80" font-size="6.2" text-anchor="end" textLength="24.90" lengthAdjust="spacingAndGlyphs" fill="#262626" transform="rotate(-45 124.40 659.80)" stroke="#262626" stroke-width="0.22">Inpatient</text>
<line x1="162.20" y1="652.30" x2="162.20" y2="654.90" stroke="#555" stroke-width="0.6"/>
<text x="161.20" y="659.80" font-size="6.2" text-anchor="end" textLength="32.70" lengthAdjust="spacingAndGlyphs" fill="#262626" transform="rotate(-45 161.20 659.80)" stroke="#262626" stroke-width="0.22">Emergency</text>
<line x1="198.90" y1="652.30" x2="198.90" y2="654.90" stroke="#555" stroke-width="0.6"/>
<text x="197.90" y="659.80" font-size="6.2" text-anchor="end" textLength="30.60" lengthAdjust="spacingAndGlyphs" fill="#262626" transform="rotate(-45 197.90 659.80)" stroke="#262626" stroke-width="0.22">Outpatient</text>
<text x="15.00" y="599.40" font-size="7.2" text-anchor="middle" textLength="26.20" lengthAdjust="spacingAndGlyphs" font-weight="bold" fill="#000" transform="rotate(-90 15.00 599.40)">AUROC</text>
<text x="125.50" y="698.60" font-size="7.3" text-anchor="middle" textLength="36.20" lengthAdjust="spacingAndGlyphs" font-weight="bold" fill="#000">Scenarios</text>
<rect x="172.8" y="617.3" width="42.5" height="33.1" rx="1" fill="#ffffff" fill-opacity="0.85" stroke="#dddddd" stroke-width="0.6"/>
<rect x="174.20" y="619.10" width="7.50" height="2.30" fill="#74b0cd" stroke="#5a6a72" stroke-width="0.4"/>
<text x="185.00" y="621.70" font-size="4.3" textLength="13.20" lengthAdjust="spacingAndGlyphs" fill="#222222" stroke="#222222" stroke-width="0.22">AUROC</text>
<circle cx="178.20" cy="625.52" r="1.15" fill="#000000"/>
<text x="185.00" y="627.02" font-size="4.3" textLength="14.30" lengthAdjust="spacingAndGlyphs" fill="#222222" stroke="#222222" stroke-width="0.22">median</text>
<circle cx="178.20" cy="630.84" r="1.15" fill="#0000ff"/>
<text x="185.00" y="632.34" font-size="4.3" textLength="29.30" lengthAdjust="spacingAndGlyphs" fill="#222222" stroke="#222222" stroke-width="0.22">25th percentile</text>
<circle cx="178.20" cy="636.16" r="1.15" fill="#ff0000"/>
<text x="185.00" y="637.66" font-size="4.3" textLength="29.30" lengthAdjust="spacingAndGlyphs" fill="#222222" stroke="#222222" stroke-width="0.22">75th percentile</text>
<circle cx="178.20" cy="641.48" r="1.15" fill="#00e000"/>
<text x="185.00" y="642.98" font-size="4.3" textLength="26.40" lengthAdjust="spacingAndGlyphs" fill="#222222" stroke="#222222" stroke-width="0.22">lower whisker</text>
<circle cx="178.20" cy="646.80" r="1.15" fill="#ecb868"/>
<text x="185.00" y="648.30" font-size="4.3" textLength="27.10" lengthAdjust="spacingAndGlyphs" fill="#222222" stroke="#222222" stroke-width="0.22">upper whisker</text>
<rect x="253.50" y="545.60" width="183.30" height="107.80" fill="none" stroke="#7a7a7a" stroke-width="0.9"/>
<line x1="251.50" y1="550.10" x2="253.50" y2="550.10" stroke="#555" stroke-width="0.6"/>
<text x="250.00" y="552.20" font-size="6.2" text-anchor="end" textLength="16.20" lengthAdjust="spacingAndGlyphs" fill="#262626" stroke="#262626" stroke-width="0.22">1.000</text>
<line x1="251.50" y1="563.97" x2="253.50" y2="563.97" stroke="#555" stroke-width="0.6"/>
<text x="250.00" y="566.07" font-size="6.2" text-anchor="end" textLength="16.20" lengthAdjust="spacingAndGlyphs" fill="#262626" stroke="#262626" stroke-width="0.22">0.975</text>
<line x1="251.50" y1="577.84" x2="253.50" y2="577.84" stroke="#555" stroke-width="0.6"/>
<text x="250.00" y="579.94" font-size="6.2" text-anchor="end" textLength="16.20" lengthAdjust="spacingAndGlyphs" fill="#262626" stroke="#262626" stroke-width="0.22">0.950</text>
<line x1="251.50" y1="591.71" x2="253.50" y2="591.71" stroke="#555" stroke-width="0.6"/>
<text x="250.00" y="593.81" font-size="6.2" text-anchor="end" textLength="16.20" lengthAdjust="spacingAndGlyphs" fill="#262626" stroke="#262626" stroke-width="0.22">0.925</text>
<line x1="251.50" y1="605.58" x2="253.50" y2="605.58" stroke="#555" stroke-width="0.6"/>
<text x="250.00" y="607.68" font-size="6.2" text-anchor="end" textLength="16.20" lengthAdjust="spacingAndGlyphs" fill="#262626" stroke="#262626" stroke-width="0.22">0.900</text>
<line x1="251.50" y1="619.45" x2="253.50" y2="619.45" stroke="#555" stroke-width="0.6"/>
<text x="250.00" y="621.55" font-size="6.2" text-anchor="end" textLength="16.20" lengthAdjust="spacingAndGlyphs" fill="#262626" stroke="#262626" stroke-width="0.22">0.875</text>
<line x1="251.50" y1="633.32" x2="253.50" y2="633.32" stroke="#555" stroke-width="0.6"/>
<text x="250.00" y="635.42" font-size="6.2" text-anchor="end" textLength="16.20" lengthAdjust="spacingAndGlyphs" fill="#262626" stroke="#262626" stroke-width="0.22">0.850</text>
<line x1="251.50" y1="647.19" x2="253.50" y2="647.19" stroke="#555" stroke-width="0.6"/>
<text x="250.00" y="649.29" font-size="6.2" text-anchor="end" textLength="16.20" lengthAdjust="spacingAndGlyphs" fill="#262626" stroke="#262626" stroke-width="0.22">0.825</text>
<line x1="270.40" y1="581.80" x2="270.40" y2="560.50" stroke="#3a3a3a" stroke-width="1.0"/>
<line x1="270.40" y1="595.70" x2="270.40" y2="615.60" stroke="#3a3a3a" stroke-width="1.0"/>
<line x1="266.90" y1="560.50" x2="273.90" y2="560.50" stroke="#777777" stroke-width="0.9"/>
<line x1="266.90" y1="615.60" x2="273.90" y2="615.60" stroke="#777777" stroke-width="0.9"/>
<rect x="263.60" y="581.80" width="13.60" height="13.90" fill="#2a6496" stroke="#333333" stroke-width="0.9"/>
<line x1="263.60" y1="587.70" x2="277.20" y2="587.70" stroke="#222222" stroke-width="0.9"/>
<circle cx="270.40" cy="618.50" r="1.75" fill="none" stroke="#333333" stroke-width="0.7"/>
<circle cx="270.40" cy="621.70" r="1.75" fill="none" stroke="#333333" stroke-width="0.7"/>
<circle cx="270.40" cy="624.60" r="1.75" fill="none" stroke="#333333" stroke-width="0.7"/>
<circle cx="270.40" cy="588.20" r="1.35" fill="#000000"/>
<circle cx="270.40" cy="595.70" r="1.35" fill="#0000ff"/>
<circle cx="270.40" cy="581.80" r="1.35" fill="#ff0000"/>
<circle cx="270.40" cy="615.60" r="1.35" fill="#00e000"/>
<circle cx="270.40" cy="560.50" r="1.35" fill="#ecb868"/>
<line x1="284.05" y1="554.00" x2="284.05" y2="550.00" stroke="#a0a0a0" stroke-width="1.0"/>
<line x1="284.05" y1="559.60" x2="284.05" y2="566.50" stroke="#a0a0a0" stroke-width="1.0"/>
<line x1="280.55" y1="550.00" x2="287.55" y2="550.00" stroke="#777777" stroke-width="0.9"/>
<line x1="280.55" y1="566.50" x2="287.55" y2="566.50" stroke="#777777" stroke-width="0.9"/>
<rect x="277.20" y="554.00" width="13.70" height="5.60" fill="#8fb0aa" stroke="#3a3a3a" stroke-width="0.9"/>
<line x1="277.20" y1="556.80" x2="290.90" y2="556.80" stroke="#333333" stroke-width="0.9"/>
<circle cx="284.05" cy="568.50" r="1.75" fill="none" stroke="#333333" stroke-width="0.7"/>
<circle cx="284.05" cy="571.00" r="1.75" fill="none" stroke="#333333" stroke-width="0.7"/>
<circle cx="284.05" cy="573.50" r="1.75" fill="none" stroke="#333333" stroke-width="0.7"/>
<circle cx="284.05" cy="575.60" r="1.75" fill="none" stroke="#333333" stroke-width="0.7"/>
<circle cx="284.05" cy="557.30" r="1.35" fill="#000000"/>
<circle cx="284.05" cy="559.60" r="1.35" fill="#0000ff"/>
<circle cx="284.05" cy="554.00" r="1.35" fill="#ff0000"/>
<circle cx="284.05" cy="566.50" r="1.35" fill="#00e000"/>
<circle cx="284.05" cy="550.00" r="1.35" fill="#ecb868"/>
<line x1="304.45" y1="550.10" x2="304.45" y2="550.00" stroke="#3a3a3a" stroke-width="1.0"/>
<line x1="304.45" y1="554.30" x2="304.45" y2="558.70" stroke="#3a3a3a" stroke-width="1.0"/>
<line x1="300.95" y1="550.00" x2="307.95" y2="550.00" stroke="#777777" stroke-width="0.9"/>
<line x1="300.95" y1="558.70" x2="307.95" y2="558.70" stroke="#777777" stroke-width="0.9"/>
<rect x="297.60" y="550.10" width="13.70" height="4.20" fill="#2a6496" stroke="#333333" stroke-width="0.9"/>
<line x1="297.60" y1="552.20" x2="311.30" y2="552.20" stroke="#222222" stroke-width="0.9"/>
<circle cx="304.45" cy="561.70" r="1.75" fill="none" stroke="#333333" stroke-width="0.7"/>
<circle cx="304.45" cy="564.00" r="1.75" fill="none" stroke="#333333" stroke-width="0.7"/>
<circle cx="304.45" cy="552.70" r="1.35" fill="#000000"/>
<circle cx="304.45" cy="554.30" r="1.35" fill="#0000ff"/>
<circle cx="304.45" cy="550.10" r="1.35" fill="#ff0000"/>
<circle cx="304.45" cy="558.70" r="1.35" fill="#00e000"/>
<circle cx="304.45" cy="550.00" r="1.35" fill="#ecb868"/>
<line x1="318.00" y1="560.10" x2="318.00" y2="558.70" stroke="#a0a0a0" stroke-width="1.0"/>
<line x1="318.00" y1="561.90" x2="318.00" y2="564.00" stroke="#a0a0a0" stroke-width="1.0"/>
<line x1="314.50" y1="558.70" x2="321.50" y2="558.70" stroke="#777777" stroke-width="0.9"/>
<line x1="314.50" y1="564.00" x2="321.50" y2="564.00" stroke="#777777" stroke-width="0.9"/>
<rect x="311.30" y="560.10" width="13.40" height="1.80" fill="#8fb0aa" stroke="#3a3a3a" stroke-width="0.9"/>
<line x1="311.30" y1="561.00" x2="324.70" y2="561.00" stroke="#333333" stroke-width="0.9"/>
<circle cx="318.00" cy="557.00" r="1.75" fill="none" stroke="#333333" stroke-width="0.7"/>
<circle cx="318.00" cy="565.70" r="1.75" fill="none" stroke="#333333" stroke-width="0.7"/>
<circle cx="318.00" cy="561.50" r="1.35" fill="#000000"/>
<circle cx="318.00" cy="561.90" r="1.35" fill="#0000ff"/>
<circle cx="318.00" cy="560.10" r="1.35" fill="#ff0000"/>
<circle cx="318.00" cy="564.00" r="1.35" fill="#00e000"/>
<circle cx="318.00" cy="558.70" r="1.35" fill="#ecb868"/>
<line x1="338.25" y1="589.80" x2="338.25" y2="564.00" stroke="#3a3a3a" stroke-width="1.0"/>
<line x1="338.25" y1="607.60" x2="338.25" y2="635.60" stroke="#3a3a3a" stroke-width="1.0"/>
<line x1="334.75" y1="564.00" x2="341.75" y2="564.00" stroke="#777777" stroke-width="0.9"/>
<line x1="334.75" y1="635.60" x2="341.75" y2="635.60" stroke="#777777" stroke-width="0.9"/>
<rect x="331.40" y="589.80" width="13.70" height="17.80" fill="#2a6496" stroke="#333333" stroke-width="0.9"/>
<line x1="331.40" y1="598.60" x2="345.10" y2="598.60" stroke="#222222" stroke-width="0.9"/>
<circle cx="338.25" cy="562.80" r="1.75" fill="none" stroke="#333333" stroke-width="0.7"/>
<circle cx="338.25" cy="637.90" r="1.75" fill="none" stroke="#333333" stroke-width="0.7"/>
<circle cx="338.25" cy="649.00" r="1.75" fill="none" stroke="#333333" stroke-width="0.7"/>
<circle cx="338.25" cy="599.10" r="1.35" fill="#000000"/>
<circle cx="338.25" cy="607.60" r="1.35" fill="#0000ff"/>
<circle cx="338.25" cy="589.80" r="1.35" fill="#ff0000"/>
<circle cx="338.25" cy="635.60" r="1.35" fill="#00e000"/>
<circle cx="338.25" cy="564.00" r="1.35" fill="#ecb868"/>
<line x1="351.95" y1="573.40" x2="351.95" y2="566.20" stroke="#a0a0a0" stroke-width="1.0"/>
<line x1="351.95" y1="577.60" x2="351.95" y2="584.50" stroke="#a0a0a0" stroke-width="1.0"/>
<line x1="348.45" y1="566.20" x2="355.45" y2="566.20" stroke="#777777" stroke-width="0.9"/>
<line x1="348.45" y1="584.50" x2="355.45" y2="584.50" stroke="#777777" stroke-width="0.9"/>
<rect x="345.10" y="573.40" width="13.70" height="4.20" fill="#8fb0aa" stroke="#3a3a3a" stroke-width="0.9"/>
<line x1="345.10" y1="575.50" x2="358.80" y2="575.50" stroke="#333333" stroke-width="0.9"/>
<circle cx="351.95" cy="587.60" r="1.75" fill="none" stroke="#333333" stroke-width="0.7"/>
<circle cx="351.95" cy="590.80" r="1.75" fill="none" stroke="#333333" stroke-width="0.7"/>
<circle cx="351.95" cy="576.00" r="1.35" fill="#000000"/>
<circle cx="351.95" cy="577.60" r="1.35" fill="#0000ff"/>
<circle cx="351.95" cy="573.40" r="1.35" fill="#ff0000"/>
<circle cx="351.95" cy="584.50" r="1.35" fill="#00e000"/>
<circle cx="351.95" cy="566.20" r="1.35" fill="#ecb868"/>
<line x1="372.15" y1="593.20" x2="372.15" y2="585.40" stroke="#3a3a3a" stroke-width="1.0"/>
<line x1="372.15" y1="600.00" x2="372.15" y2="608.90" stroke="#3a3a3a" stroke-width="1.0"/>
<line x1="368.65" y1="585.40" x2="375.65" y2="585.40" stroke="#777777" stroke-width="0.9"/>
<line x1="368.65" y1="608.90" x2="375.65" y2="608.90" stroke="#777777" stroke-width="0.9"/>
<rect x="365.30" y="593.20" width="13.70" height="6.80" fill="#2a6496" stroke="#333333" stroke-width="0.9"/>
<line x1="365.30" y1="596.80" x2="379.00" y2="596.80" stroke="#222222" stroke-width="0.9"/>
<circle cx="372.15" cy="610.70" r="1.75" fill="none" stroke="#333333" stroke-width="0.7"/>
<circle cx="372.15" cy="612.70" r="1.75" fill="none" stroke="#333333" stroke-width="0.7"/>
<circle cx="372.15" cy="614.90" r="1.75" fill="none" stroke="#333333" stroke-width="0.7"/>
<circle cx="372.15" cy="597.30" r="1.35" fill="#000000"/>
<circle cx="372.15" cy="600.00" r="1.35" fill="#0000ff"/>
<circle cx="372.15" cy="593.20" r="1.35" fill="#ff0000"/>
<circle cx="372.15" cy="608.90" r="1.35" fill="#00e000"/>
<circle cx="372.15" cy="585.40" r="1.35" fill="#ecb868"/>
<line x1="385.85" y1="583.10" x2="385.85" y2="577.40" stroke="#a0a0a0" stroke-width="1.0"/>
<line x1="385.85" y1="588.40" x2="385.85" y2="594.60" stroke="#a0a0a0" stroke-width="1.0"/>
<line x1="382.35" y1="577.40" x2="389.35" y2="577.40" stroke="#777777" stroke-width="0.9"/>
<line x1="382.35" y1="594.60" x2="389.35" y2="594.60" stroke="#777777" stroke-width="0.9"/>
<rect x="379.00" y="583.10" width="13.70" height="5.30" fill="#8fb0aa" stroke="#3a3a3a" stroke-width="0.9"/>
<line x1="379.00" y1="585.70" x2="392.70" y2="585.70" stroke="#333333" stroke-width="0.9"/>
<circle cx="385.85" cy="596.40" r="1.75" fill="none" stroke="#333333" stroke-width="0.7"/>
<circle cx="385.85" cy="598.20" r="1.75" fill="none" stroke="#333333" stroke-width="0.7"/>
<circle cx="385.85" cy="586.20" r="1.35" fill="#000000"/>
<circle cx="385.85" cy="588.40" r="1.35" fill="#0000ff"/>
<circle cx="385.85" cy="583.10" r="1.35" fill="#ff0000"/>
<circle cx="385.85" cy="594.60" r="1.35" fill="#00e000"/>
<circle cx="385.85" cy="577.40" r="1.35" fill="#ecb868"/>
<line x1="406.10" y1="569.40" x2="406.10" y2="559.40" stroke="#3a3a3a" stroke-width="1.0"/>
<line x1="406.10" y1="576.10" x2="406.10" y2="586.10" stroke="#3a3a3a" stroke-width="1.0"/>
<line x1="402.60" y1="559.40" x2="409.60" y2="559.40" stroke="#777777" stroke-width="0.9"/>
<line x1="402.60" y1="586.10" x2="409.60" y2="586.10" stroke="#777777" stroke-width="0.9"/>
<rect x="399.40" y="569.40" width="13.40" height="6.70" fill="#2a6496" stroke="#333333" stroke-width="0.9"/>
<line x1="399.40" y1="572.60" x2="412.80" y2="572.60" stroke="#222222" stroke-width="0.9"/>
<circle cx="406.10" cy="558.30" r="1.75" fill="none" stroke="#333333" stroke-width="0.7"/>
<circle cx="406.10" cy="587.90" r="1.75" fill="none" stroke="#333333" stroke-width="0.7"/>
<circle cx="406.10" cy="589.90" r="1.75" fill="none" stroke="#333333" stroke-width="0.7"/>
<circle cx="406.10" cy="591.90" r="1.75" fill="none" stroke="#333333" stroke-width="0.7"/>
<circle cx="406.10" cy="593.70" r="1.75" fill="none" stroke="#333333" stroke-width="0.7"/>
<circle cx="406.10" cy="573.10" r="1.35" fill="#000000"/>
<circle cx="406.10" cy="576.10" r="1.35" fill="#0000ff"/>
<circle cx="406.10" cy="569.40" r="1.35" fill="#ff0000"/>
<circle cx="406.10" cy="586.10" r="1.35" fill="#00e000"/>
<circle cx="406.10" cy="559.40" r="1.35" fill="#ecb868"/>
<line x1="419.65" y1="567.90" x2="419.65" y2="563.50" stroke="#a0a0a0" stroke-width="1.0"/>
<line x1="419.65" y1="571.50" x2="419.65" y2="575.60" stroke="#a0a0a0" stroke-width="1.0"/>
<line x1="416.15" y1="563.50" x2="423.15" y2="563.50" stroke="#777777" stroke-width="0.9"/>
<line x1="416.15" y1="575.60" x2="423.15" y2="575.60" stroke="#777777" stroke-width="0.9"/>
<rect x="412.80" y="567.90" width="13.70" height="3.60" fill="#8fb0aa" stroke="#3a3a3a" stroke-width="0.9"/>
<line x1="412.80" y1="569.70" x2="426.50" y2="569.70" stroke="#333333" stroke-width="0.9"/>
<circle cx="419.65" cy="562.40" r="1.75" fill="none" stroke="#333333" stroke-width="0.7"/>
<circle cx="419.65" cy="577.70" r="1.75" fill="none" stroke="#333333" stroke-width="0.7"/>
<circle cx="419.65" cy="579.50" r="1.75" fill="none" stroke="#333333" stroke-width="0.7"/>
<circle cx="419.65" cy="570.20" r="1.35" fill="#000000"/>
<circle cx="419.65" cy="571.50" r="1.35" fill="#0000ff"/>
<circle cx="419.65" cy="567.90" r="1.35" fill="#ff0000"/>
<circle cx="419.65" cy="575.60" r="1.35" fill="#00e000"/>
<circle cx="419.65" cy="563.50" r="1.35" fill="#ecb868"/>
<line x1="277.20" y1="653.40" x2="277.20" y2="656.00" stroke="#555" stroke-width="0.6"/>
<text x="276.20" y="660.90" font-size="6.2" text-anchor="end" textLength="23.40" lengthAdjust="spacingAndGlyphs" fill="#262626" transform="rotate(-45 276.20 660.90)" stroke="#262626" stroke-width="0.22">UNIFESP</text>
<line x1="311.30" y1="653.40" x2="311.30" y2="656.00" stroke="#555" stroke-width="0.6"/>
<text x="310.30" y="664.70" font-size="6.2" text-anchor="end" textLength="35.50" lengthAdjust="spacingAndGlyphs" fill="#262626" transform="rotate(-45 310.30 664.70)" stroke="#262626" stroke-width="0.22">Examination</text>
<text x="305.40" y="660.20" font-size="6.2" text-anchor="end" textLength="23.10" lengthAdjust="spacingAndGlyphs" fill="#262626" transform="rotate(-45 305.40 660.20)" stroke="#262626" stroke-width="0.22">Physical</text>
<line x1="345.10" y1="653.40" x2="345.10" y2="656.00" stroke="#555" stroke-width="0.6"/>
<text x="344.10" y="660.90" font-size="6.2" text-anchor="end" textLength="24.90" lengthAdjust="spacingAndGlyphs" fill="#262626" transform="rotate(-45 344.10 660.90)" stroke="#262626" stroke-width="0.22">Inpatient</text>
<line x1="379.00" y1="653.40" x2="379.00" y2="656.00" stroke="#555" stroke-width="0.6"/>
<text x="378.00" y="660.90" font-size="6.2" text-anchor="end" textLength="32.70" lengthAdjust="spacingAndGlyphs" fill="#262626" transform="rotate(-45 378.00 660.90)" stroke="#262626" stroke-width="0.22">Emergency</text>
<line x1="412.80" y1="653.40" x2="412.80" y2="656.00" stroke="#555" stroke-width="0.6"/>
<text x="411.80" y="660.90" font-size="6.2" text-anchor="end" textLength="30.60" lengthAdjust="spacingAndGlyphs" fill="#262626" transform="rotate(-45 411.80 660.90)" stroke="#262626" stroke-width="0.22">Outpatient</text>
<text x="230.40" y="599.90" font-size="7.2" text-anchor="middle" textLength="26.20" lengthAdjust="spacingAndGlyphs" font-weight="bold" fill="#000" transform="rotate(-90 230.40 599.90)">AUROC</text>
<text x="345.00" y="700.80" font-size="7.3" text-anchor="middle" textLength="36.20" lengthAdjust="spacingAndGlyphs" font-weight="bold" fill="#000">Scenarios</text>
<rect x="378.4" y="599.1" width="55.7" height="52.0" rx="1" fill="#ffffff" fill-opacity="0.85" stroke="#dddddd" stroke-width="0.6"/>
<rect x="380.40" y="601.40" width="9.20" height="3.20" fill="#2a6496" stroke="#333" stroke-width="0.4"/>
<rect x="380.40" y="608.70" width="9.20" height="3.20" fill="#8fb0aa" stroke="#555" stroke-width="0.4"/>
<text x="393.70" y="604.80" font-size="5.3" textLength="39.20" lengthAdjust="spacingAndGlyphs" fill="#222222" stroke="#222222" stroke-width="0.22">Abdomen Scans</text>
<text x="393.70" y="612.16" font-size="5.3" textLength="24.90" lengthAdjust="spacingAndGlyphs" fill="#222222" stroke="#222222" stroke-width="0.22">Chest Scans</text>
<circle cx="385.00" cy="617.72" r="1.15" fill="#000000"/>
<text x="393.70" y="619.52" font-size="5.3" textLength="17.80" lengthAdjust="spacingAndGlyphs" fill="#222222" stroke="#222222" stroke-width="0.22">median</text>
<circle cx="385.00" cy="625.08" r="1.15" fill="#0000ff"/>
<text x="393.70" y="626.88" font-size="5.3" textLength="37.00" lengthAdjust="spacingAndGlyphs" fill="#222222" stroke="#222222" stroke-width="0.22">25th percentile</text>
<circle cx="385.00" cy="632.44" r="1.15" fill="#ff0000"/>
<text x="393.70" y="634.24" font-size="5.3" textLength="37.00" lengthAdjust="spacingAndGlyphs" fill="#222222" stroke="#222222" stroke-width="0.22">75th percentile</text>
<circle cx="385.00" cy="639.80" r="1.15" fill="#00e000"/>
<text x="393.70" y="641.60" font-size="5.3" textLength="33.40" lengthAdjust="spacingAndGlyphs" fill="#222222" stroke="#222222" stroke-width="0.22">lower whisker</text>
<circle cx="385.00" cy="647.16" r="1.15" fill="#ecb868"/>
<text x="393.70" y="648.96" font-size="5.3" textLength="34.30" lengthAdjust="spacingAndGlyphs" fill="#222222" stroke="#222222" stroke-width="0.22">upper whisker</text>
<rect x="474.60" y="546.60" width="190.90" height="108.60" fill="none" stroke="#7a7a7a" stroke-width="0.9"/>
<line x1="472.60" y1="551.60" x2="474.60" y2="551.60" stroke="#555" stroke-width="0.6"/>
<text x="471.30" y="553.70" font-size="6.2" text-anchor="end" textLength="8.60" lengthAdjust="spacingAndGlyphs" fill="#262626" stroke="#262626" stroke-width="0.22">1.0</text>
<line x1="472.60" y1="575.53" x2="474.60" y2="575.53" stroke="#555" stroke-width="0.6"/>
<text x="471.30" y="577.63" font-size="6.2" text-anchor="end" textLength="8.60" lengthAdjust="spacingAndGlyphs" fill="#262626" stroke="#262626" stroke-width="0.22">0.8</text>
<line x1="472.60" y1="599.46" x2="474.60" y2="599.46" stroke="#555" stroke-width="0.6"/>
<text x="471.30" y="601.56" font-size="6.2" text-anchor="end" textLength="8.60" lengthAdjust="spacingAndGlyphs" fill="#262626" stroke="#262626" stroke-width="0.22">0.6</text>
<line x1="472.60" y1="623.39" x2="474.60" y2="623.39" stroke="#555" stroke-width="0.6"/>
<text x="471.30" y="625.49" font-size="6.2" text-anchor="end" textLength="8.60" lengthAdjust="spacingAndGlyphs" fill="#262626" stroke="#262626" stroke-width="0.22">0.4</text>
<line x1="472.60" y1="647.32" x2="474.60" y2="647.32" stroke="#555" stroke-width="0.6"/>
<text x="471.30" y="649.42" font-size="6.2" text-anchor="end" textLength="8.60" lengthAdjust="spacingAndGlyphs" fill="#262626" stroke="#262626" stroke-width="0.22">0.2</text>
<line x1="492.25" y1="589.30" x2="492.25" y2="575.60" stroke="#8f8f8f" stroke-width="1.5"/>
<line x1="492.25" y1="599.40" x2="492.25" y2="615.50" stroke="#8f8f8f" stroke-width="1.5"/>
<line x1="488.75" y1="575.60" x2="495.75" y2="575.60" stroke="#444444" stroke-width="0.9"/>
<line x1="488.75" y1="615.50" x2="495.75" y2="615.50" stroke="#444444" stroke-width="0.9"/>
<rect x="485.30" y="589.30" width="13.90" height="10.10" fill="#2a6496" stroke="#333333" stroke-width="0.9"/>
<line x1="485.30" y1="594.10" x2="499.20" y2="594.10" stroke="#222222" stroke-width="0.9"/>
<circle cx="492.25" cy="571.60" r="1.75" fill="none" stroke="#333333" stroke-width="0.7"/>
<circle cx="492.25" cy="617.80" r="1.75" fill="none" stroke="#333333" stroke-width="0.7"/>
<circle cx="492.25" cy="620.00" r="1.75" fill="none" stroke="#333333" stroke-width="0.7"/>
<circle cx="492.25" cy="622.20" r="1.75" fill="none" stroke="#333333" stroke-width="0.7"/>
<circle cx="492.25" cy="594.60" r="1.35" fill="#000000"/>
<circle cx="492.25" cy="599.40" r="1.35" fill="#0000ff"/>
<circle cx="492.25" cy="589.30" r="1.35" fill="#ff0000"/>
<circle cx="492.25" cy="615.50" r="1.35" fill="#00e000"/>
<circle cx="492.25" cy="575.60" r="1.35" fill="#ecb868"/>
<line x1="506.30" y1="573.30" x2="506.30" y2="559.00" stroke="#a8a8a8" stroke-width="1.5"/>
<line x1="506.30" y1="583.40" x2="506.30" y2="597.70" stroke="#a8a8a8" stroke-width="1.5"/>
<line x1="502.80" y1="559.00" x2="509.80" y2="559.00" stroke="#555555" stroke-width="0.9"/>
<line x1="502.80" y1="597.70" x2="509.80" y2="597.70" stroke="#555555" stroke-width="0.9"/>
<rect x="499.20" y="573.30" width="14.20" height="10.10" fill="#8fb0aa" stroke="#555555" stroke-width="0.9"/>
<line x1="499.20" y1="577.70" x2="513.40" y2="577.70" stroke="#4a5a58" stroke-width="0.9"/>
<circle cx="506.30" cy="555.50" r="1.75" fill="none" stroke="#333333" stroke-width="0.7"/>
<circle cx="506.30" cy="600.00" r="1.75" fill="none" stroke="#333333" stroke-width="0.7"/>
<circle cx="506.30" cy="602.60" r="1.75" fill="none" stroke="#333333" stroke-width="0.7"/>
<circle cx="506.30" cy="605.30" r="1.75" fill="none" stroke="#333333" stroke-width="0.7"/>
<circle cx="506.30" cy="578.20" r="1.35" fill="#000000"/>
<circle cx="506.30" cy="583.40" r="1.35" fill="#0000ff"/>
<circle cx="506.30" cy="573.30" r="1.35" fill="#ff0000"/>
<circle cx="506.30" cy="597.70" r="1.35" fill="#00e000"/>
<circle cx="506.30" cy="559.00" r="1.35" fill="#ecb868"/>
<line x1="527.10" y1="595.20" x2="527.10" y2="577.40" stroke="#8f8f8f" stroke-width="1.5"/>
<line x1="527.10" y1="612.40" x2="527.10" y2="631.50" stroke="#8f8f8f" stroke-width="1.5"/>
<line x1="523.60" y1="577.40" x2="530.60" y2="577.40" stroke="#444444" stroke-width="0.9"/>
<line x1="523.60" y1="631.50" x2="530.60" y2="631.50" stroke="#444444" stroke-width="0.9"/>
<rect x="520.00" y="595.20" width="14.20" height="17.20" fill="#2a6496" stroke="#333333" stroke-width="0.9"/>
<line x1="520.00" y1="607.50" x2="534.20" y2="607.50" stroke="#222222" stroke-width="0.9"/>
<circle cx="527.10" cy="551.60" r="1.75" fill="none" stroke="#333333" stroke-width="0.7"/>
<circle cx="527.10" cy="565.60" r="1.75" fill="none" stroke="#333333" stroke-width="0.7"/>
<circle cx="527.10" cy="640.60" r="1.75" fill="none" stroke="#333333" stroke-width="0.7"/>
<circle cx="527.10" cy="608.00" r="1.35" fill="#000000"/>
<circle cx="527.10" cy="612.40" r="1.35" fill="#0000ff"/>
<circle cx="527.10" cy="595.20" r="1.35" fill="#ff0000"/>
<circle cx="527.10" cy="631.50" r="1.35" fill="#00e000"/>
<circle cx="527.10" cy="577.40" r="1.35" fill="#ecb868"/>
<line x1="541.35" y1="591.60" x2="541.35" y2="588.60" stroke="#a8a8a8" stroke-width="1.5"/>
<line x1="541.35" y1="593.80" x2="541.35" y2="597.00" stroke="#a8a8a8" stroke-width="1.5"/>
<line x1="537.85" y1="588.60" x2="544.85" y2="588.60" stroke="#555555" stroke-width="0.9"/>
<line x1="537.85" y1="597.00" x2="544.85" y2="597.00" stroke="#555555" stroke-width="0.9"/>
<rect x="534.20" y="591.60" width="14.30" height="2.20" fill="#8fb0aa" stroke="#555555" stroke-width="0.9"/>
<line x1="534.20" y1="592.70" x2="548.50" y2="592.70" stroke="#4a5a58" stroke-width="0.9"/>
<circle cx="541.35" cy="587.00" r="1.75" fill="none" stroke="#333333" stroke-width="0.7"/>
<circle cx="541.35" cy="593.20" r="1.35" fill="#000000"/>
<circle cx="541.35" cy="593.80" r="1.35" fill="#0000ff"/>
<circle cx="541.35" cy="591.60" r="1.35" fill="#ff0000"/>
<circle cx="541.35" cy="597.00" r="1.35" fill="#00e000"/>
<circle cx="541.35" cy="588.60" r="1.35" fill="#ecb868"/>
<line x1="562.55" y1="627.90" x2="562.55" y2="617.40" stroke="#8f8f8f" stroke-width="1.5"/>
<line x1="562.55" y1="635.60" x2="562.55" y2="647.50" stroke="#8f8f8f" stroke-width="1.5"/>
<line x1="559.05" y1="617.40" x2="566.05" y2="617.40" stroke="#444444" stroke-width="0.9"/>
<line x1="559.05" y1="647.50" x2="566.05" y2="647.50" stroke="#444444" stroke-width="0.9"/>
<rect x="555.60" y="627.90" width="13.90" height="7.70" fill="#2a6496" stroke="#333333" stroke-width="0.9"/>
<line x1="555.60" y1="632.00" x2="569.50" y2="632.00" stroke="#222222" stroke-width="0.9"/>
<circle cx="562.55" cy="613.30" r="1.75" fill="none" stroke="#333333" stroke-width="0.7"/>
<circle cx="562.55" cy="614.80" r="1.75" fill="none" stroke="#333333" stroke-width="0.7"/>
<circle cx="562.55" cy="650.40" r="1.75" fill="none" stroke="#333333" stroke-width="0.7"/>
<circle cx="562.55" cy="632.50" r="1.35" fill="#000000"/>
<circle cx="562.55" cy="635.60" r="1.35" fill="#0000ff"/>
<circle cx="562.55" cy="627.90" r="1.35" fill="#ff0000"/>
<circle cx="562.55" cy="647.50" r="1.35" fill="#00e000"/>
<circle cx="562.55" cy="617.40" r="1.35" fill="#ecb868"/>
<line x1="576.75" y1="622.20" x2="576.75" y2="617.80" stroke="#a8a8a8" stroke-width="1.5"/>
<line x1="576.75" y1="625.80" x2="576.75" y2="631.10" stroke="#a8a8a8" stroke-width="1.5"/>
<line x1="573.25" y1="617.80" x2="580.25" y2="617.80" stroke="#555555" stroke-width="0.9"/>
<line x1="573.25" y1="631.10" x2="580.25" y2="631.10" stroke="#555555" stroke-width="0.9"/>
<rect x="569.50" y="622.20" width="14.50" height="3.60" fill="#8fb0aa" stroke="#555555" stroke-width="0.9"/>
<line x1="569.50" y1="624.00" x2="584.00" y2="624.00" stroke="#4a5a58" stroke-width="0.9"/>
<circle cx="576.75" cy="616.40" r="1.75" fill="none" stroke="#333333" stroke-width="0.7"/>
<circle cx="576.75" cy="632.60" r="1.75" fill="none" stroke="#333333" stroke-width="0.7"/>
<circle cx="576.75" cy="624.50" r="1.35" fill="#000000"/>
<circle cx="576.75" cy="625.80" r="1.35" fill="#0000ff"/>
<circle cx="576.75" cy="622.20" r="1.35" fill="#ff0000"/>
<circle cx="576.75" cy="631.10" r="1.35" fill="#00e000"/>
<circle cx="576.75" cy="617.80" r="1.35" fill="#ecb868"/>
<line x1="598.30" y1="635.10" x2="598.30" y2="631.10" stroke="#8f8f8f" stroke-width="1.5"/>
<line x1="598.30" y1="637.50" x2="598.30" y2="641.80" stroke="#8f8f8f" stroke-width="1.5"/>
<line x1="594.80" y1="631.10" x2="601.80" y2="631.10" stroke="#444444" stroke-width="0.9"/>
<line x1="594.80" y1="641.80" x2="601.80" y2="641.80" stroke="#444444" stroke-width="0.9"/>
<rect x="591.20" y="635.10" width="14.20" height="2.40" fill="#2a6496" stroke="#333333" stroke-width="0.9"/>
<line x1="591.20" y1="636.30" x2="605.40" y2="636.30" stroke="#222222" stroke-width="0.9"/>
<circle cx="598.30" cy="629.90" r="1.75" fill="none" stroke="#333333" stroke-width="0.7"/>
<circle cx="598.30" cy="643.20" r="1.75" fill="none" stroke="#333333" stroke-width="0.7"/>
<circle cx="598.30" cy="636.80" r="1.35" fill="#000000"/>
<circle cx="598.30" cy="637.50" r="1.35" fill="#0000ff"/>
<circle cx="598.30" cy="635.10" r="1.35" fill="#ff0000"/>
<circle cx="598.30" cy="641.80" r="1.35" fill="#00e000"/>
<circle cx="598.30" cy="631.10" r="1.35" fill="#ecb868"/>
<line x1="612.35" y1="622.20" x2="612.35" y2="617.80" stroke="#a8a8a8" stroke-width="1.5"/>
<line x1="612.35" y1="625.40" x2="612.35" y2="629.40" stroke="#a8a8a8" stroke-width="1.5"/>
<line x1="608.85" y1="617.80" x2="615.85" y2="617.80" stroke="#555555" stroke-width="0.9"/>
<line x1="608.85" y1="629.40" x2="615.85" y2="629.40" stroke="#555555" stroke-width="0.9"/>
<rect x="605.40" y="622.20" width="13.90" height="3.20" fill="#8fb0aa" stroke="#555555" stroke-width="0.9"/>
<line x1="605.40" y1="623.80" x2="619.30" y2="623.80" stroke="#4a5a58" stroke-width="0.9"/>
<circle cx="612.35" cy="616.40" r="1.75" fill="none" stroke="#333333" stroke-width="0.7"/>
<circle cx="612.35" cy="630.80" r="1.75" fill="none" stroke="#333333" stroke-width="0.7"/>
<circle cx="612.35" cy="624.30" r="1.35" fill="#000000"/>
<circle cx="612.35" cy="625.40" r="1.35" fill="#0000ff"/>
<circle cx="612.35" cy="622.20" r="1.35" fill="#ff0000"/>
<circle cx="612.35" cy="629.40" r="1.35" fill="#00e000"/>
<circle cx="612.35" cy="617.80" r="1.35" fill="#ecb868"/>
<line x1="633.35" y1="597.30" x2="633.35" y2="587.50" stroke="#8f8f8f" stroke-width="1.5"/>
<line x1="633.35" y1="604.10" x2="633.35" y2="613.30" stroke="#8f8f8f" stroke-width="1.5"/>
<line x1="629.85" y1="587.50" x2="636.85" y2="587.50" stroke="#444444" stroke-width="0.9"/>
<line x1="629.85" y1="613.30" x2="636.85" y2="613.30" stroke="#444444" stroke-width="0.9"/>
<rect x="626.40" y="597.30" width="13.90" height="6.80" fill="#2a6496" stroke="#333333" stroke-width="0.9"/>
<line x1="626.40" y1="600.90" x2="640.30" y2="600.90" stroke="#222222" stroke-width="0.9"/>
<circle cx="633.35" cy="586.20" r="1.75" fill="none" stroke="#333333" stroke-width="0.7"/>
<circle cx="633.35" cy="614.60" r="1.75" fill="none" stroke="#333333" stroke-width="0.7"/>
<circle cx="633.35" cy="601.40" r="1.35" fill="#000000"/>
<circle cx="633.35" cy="604.10" r="1.35" fill="#0000ff"/>
<circle cx="633.35" cy="597.30" r="1.35" fill="#ff0000"/>
<circle cx="633.35" cy="613.30" r="1.35" fill="#00e000"/>
<circle cx="633.35" cy="587.50" r="1.35" fill="#ecb868"/>
<line x1="647.40" y1="600.90" x2="647.40" y2="596.40" stroke="#a8a8a8" stroke-width="1.5"/>
<line x1="647.40" y1="604.10" x2="647.40" y2="608.00" stroke="#a8a8a8" stroke-width="1.5"/>
<line x1="643.90" y1="596.40" x2="650.90" y2="596.40" stroke="#555555" stroke-width="0.9"/>
<line x1="643.90" y1="608.00" x2="650.90" y2="608.00" stroke="#555555" stroke-width="0.9"/>
<rect x="640.30" y="600.90" width="14.20" height="3.20" fill="#8fb0aa" stroke="#555555" stroke-width="0.9"/>
<line x1="640.30" y1="602.50" x2="654.50" y2="602.50" stroke="#4a5a58" stroke-width="0.9"/>
<circle cx="647.40" cy="595.10" r="1.75" fill="none" stroke="#333333" stroke-width="0.7"/>
<circle cx="647.40" cy="609.60" r="1.75" fill="none" stroke="#333333" stroke-width="0.7"/>
<circle cx="647.40" cy="611.60" r="1.75" fill="none" stroke="#333333" stroke-width="0.7"/>
<circle cx="647.40" cy="603.00" r="1.35" fill="#000000"/>
<circle cx="647.40" cy="604.10" r="1.35" fill="#0000ff"/>
<circle cx="647.40" cy="600.90" r="1.35" fill="#ff0000"/>
<circle cx="647.40" cy="608.00" r="1.35" fill="#00e000"/>
<circle cx="647.40" cy="596.40" r="1.35" fill="#ecb868"/>
<line x1="499.20" y1="655.20" x2="499.20" y2="657.80" stroke="#555" stroke-width="0.6"/>
<text x="498.20" y="662.70" font-size="6.2" text-anchor="end" textLength="23.40" lengthAdjust="spacingAndGlyphs" fill="#262626" transform="rotate(-45 498.20 662.70)" stroke="#262626" stroke-width="0.22">UNIFESP</text>
<line x1="534.20" y1="655.20" x2="534.20" y2="657.80" stroke="#555" stroke-width="0.6"/>
<text x="533.20" y="666.50" font-size="6.2" text-anchor="end" textLength="35.50" lengthAdjust="spacingAndGlyphs" fill="#262626" transform="rotate(-45 533.20 666.50)" stroke="#262626" stroke-width="0.22">Examination</text>
<text x="528.30" y="662.00" font-size="6.2" text-anchor="end" textLength="23.10" lengthAdjust="spacingAndGlyphs" fill="#262626" transform="rotate(-45 528.30 662.00)" stroke="#262626" stroke-width="0.22">Physical</text>
<line x1="569.50" y1="655.20" x2="569.50" y2="657.80" stroke="#555" stroke-width="0.6"/>
<text x="568.50" y="662.70" font-size="6.2" text-anchor="end" textLength="24.90" lengthAdjust="spacingAndGlyphs" fill="#262626" transform="rotate(-45 568.50 662.70)" stroke="#262626" stroke-width="0.22">Inpatient</text>
<line x1="605.40" y1="655.20" x2="605.40" y2="657.80" stroke="#555" stroke-width="0.6"/>
<text x="604.40" y="662.70" font-size="6.2" text-anchor="end" textLength="32.70" lengthAdjust="spacingAndGlyphs" fill="#262626" transform="rotate(-45 604.40 662.70)" stroke="#262626" stroke-width="0.22">Emergency</text>
<line x1="640.30" y1="655.20" x2="640.30" y2="657.80" stroke="#555" stroke-width="0.6"/>
<text x="639.30" y="662.70" font-size="6.2" text-anchor="end" textLength="30.60" lengthAdjust="spacingAndGlyphs" fill="#262626" transform="rotate(-45 639.30 662.70)" stroke="#262626" stroke-width="0.22">Outpatient</text>
<text x="457.60" y="600.90" font-size="7.2" text-anchor="middle" textLength="56.00" lengthAdjust="spacingAndGlyphs" font-weight="bold" fill="#000" transform="rotate(-90 457.60 600.90)">Cohen's Kappa</text>
<text x="569.70" y="702.20" font-size="7.3" text-anchor="middle" textLength="36.20" lengthAdjust="spacingAndGlyphs" font-weight="bold" fill="#000">Scenarios</text>
<rect x="546.6" y="548.8" width="115.8" height="30.4" rx="1" fill="#ffffff" fill-opacity="0.85" stroke="#dddddd" stroke-width="0.6"/>
<rect x="548.50" y="551.40" width="9.90" height="3.20" fill="#2a6496" stroke="#333" stroke-width="0.4"/>
<rect x="548.50" y="558.60" width="9.90" height="3.20" fill="#8fb0aa" stroke="#555" stroke-width="0.4"/>
<text x="561.80" y="554.80" font-size="5.3" textLength="39.20" lengthAdjust="spacingAndGlyphs" fill="#222222" stroke="#222222" stroke-width="0.22">Abdomen Scans</text>
<text x="561.80" y="562.00" font-size="5.3" textLength="24.90" lengthAdjust="spacingAndGlyphs" fill="#222222" stroke="#222222" stroke-width="0.22">Chest Scans</text>
<circle cx="553.30" cy="567.40" r="1.15" fill="#000000"/>
<text x="561.80" y="569.20" font-size="5.3" textLength="17.80" lengthAdjust="spacingAndGlyphs" fill="#222222" stroke="#222222" stroke-width="0.22">median</text>
<circle cx="553.30" cy="574.60" r="1.15" fill="#0000ff"/>
<text x="561.80" y="576.40" font-size="5.3" textLength="37.00" lengthAdjust="spacingAndGlyphs" fill="#222222" stroke="#222222" stroke-width="0.22">25th percentile</text>
<circle cx="615.90" cy="553.00" r="1.15" fill="#ff0000"/>
<text x="624.10" y="554.80" font-size="5.3" textLength="37.00" lengthAdjust="spacingAndGlyphs" fill="#222222" stroke="#222222" stroke-width="0.22">75th percentile</text>
<circle cx="615.90" cy="560.20" r="1.15" fill="#00e000"/>
<text x="624.10" y="562.00" font-size="5.3" textLength="33.40" lengthAdjust="spacingAndGlyphs" fill="#222222" stroke="#222222" stroke-width="0.22">lower whisker</text>
<circle cx="615.90" cy="567.40" r="1.15" fill="#ecb868"/>
<text x="624.10" y="569.20" font-size="5.3" textLength="34.30" lengthAdjust="spacingAndGlyphs" fill="#222222" stroke="#222222" stroke-width="0.22">upper whisker</text>
</svg>
</body></html>
